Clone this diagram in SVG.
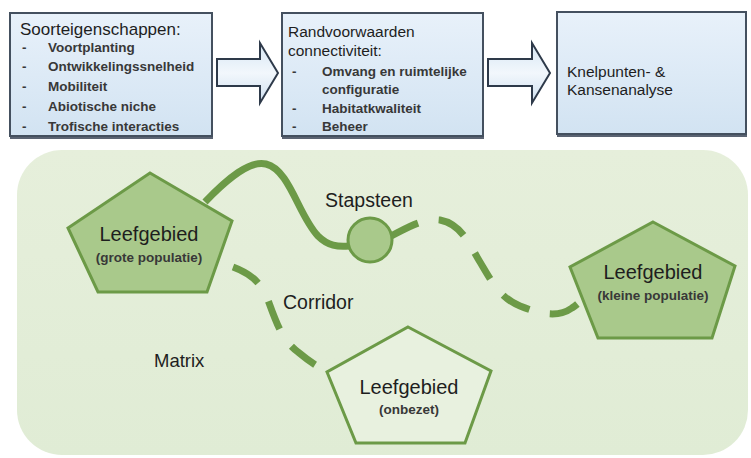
<svg xmlns="http://www.w3.org/2000/svg" width="751" height="458" viewBox="0 0 751 458">
<defs>
<linearGradient id="boxg" x1="0" y1="0" x2="0" y2="1">
<stop offset="0" stop-color="#e8f1fa"/>
<stop offset="1" stop-color="#d2e3f2"/>
</linearGradient>
<linearGradient id="arrg" x1="0" y1="0" x2="0" y2="1">
<stop offset="0" stop-color="#d6e6f4"/>
<stop offset="0.5" stop-color="#f2f7fc"/>
<stop offset="1" stop-color="#cfe0f0"/>
</linearGradient>
<linearGradient id="bgg" x1="0" y1="0" x2="0" y2="1">
<stop offset="0" stop-color="#e6efdb"/>
<stop offset="1" stop-color="#e0ecd5"/>
</linearGradient>
</defs>
<style>
.box{fill:url(#boxg);stroke:#44505f;stroke-width:2}
.shadow{fill:#5a6372}
.arrow{fill:url(#arrg);stroke:#2e3a4a;stroke-width:2;stroke-linejoin:miter}
.h{font-family:"Liberation Sans",Arial,sans-serif;fill:#1e1e1e}
.it{font-family:"Liberation Sans",Arial,sans-serif;font-weight:bold;fill:#383838;font-size:13.5px}
.pent{fill:#a9c98b;stroke:#6c9a47;stroke-width:3;stroke-linejoin:miter}
.pent2{fill:#e8f1df;stroke:#6c9a47;stroke-width:3;stroke-linejoin:miter}
.lbl{font-family:"Liberation Sans",Arial,sans-serif;fill:#1e1e1e;text-anchor:middle}
.sub{font-family:"Liberation Sans",Arial,sans-serif;font-weight:bold;fill:#383838;font-size:13.5px;text-anchor:middle}
.link{fill:none;stroke:#6c9a47;stroke-width:7;stroke-linecap:butt}
.dash{stroke-dasharray:30 21}
</style>
<rect id="matrix-area" x="17" y="150" width="731" height="305" rx="45" fill="url(#bgg)"/>

<g id="box-soorteigenschappen">
<rect class="shadow" x="10" y="16" width="203" height="123"/>
<rect class="box" x="10" y="13" width="202" height="123"/>
<text class="h" x="20" y="35" font-size="17">Soorteigenschappen:</text>
<g class="it">
<text x="22" y="52">-</text><text x="48" y="52">Voortplanting</text>
<text x="22" y="71">-</text><text x="48" y="71">Ontwikkelingssnelheid</text>
<text x="22" y="91">-</text><text x="48" y="91">Mobiliteit</text>
<text x="22" y="111">-</text><text x="48" y="111">Abiotische niche</text>
<text x="22" y="131">-</text><text x="48" y="131">Trofische interacties</text>
</g>
</g>

<g id="box-randvoorwaarden">
<rect class="shadow" x="282" y="16" width="202" height="123"/>
<rect class="box" x="282" y="13" width="201" height="123"/>
<text class="h" x="288" y="37" font-size="15.5">Randvoorwaarden</text>
<text class="h" x="288" y="56" font-size="15.5">connectiviteit:</text>
<g class="it">
<text x="292" y="76">-</text><text x="322" y="76">Omvang en ruimtelijke</text>
<text x="322" y="94">configuratie</text>
<text x="292" y="113">-</text><text x="322" y="113">Habitatkwaliteit</text>
<text x="292" y="131">-</text><text x="322" y="131">Beheer</text>
</g>
</g>

<g id="box-knelpunten">
<rect class="shadow" x="557" y="15" width="190" height="122"/>
<rect class="box" x="557" y="12" width="189" height="122"/>
<text class="h" x="567" y="77" font-size="15.5">Knelpunten- &amp;</text>
<text class="h" x="567" y="95" font-size="15.5">Kansenanalyse</text>
</g>

<g id="connectors">
<polygon class="arrow" points="217,59 260,59 260,43 278,73 260,103 260,86 217,86"/>
<polygon class="arrow" points="488,59 532,59 532,43 550,73 532,103 532,86 488,86"/>
<path class="link" d="M205,202 C228,178 250,160 266,164 C290,170 298,215 318,236 C328,246 338,247 349,246"/>
<path class="link dash" d="M391,236 C405,229 422,218 440,220 C462,224 470,246 480,262 C492,282 500,298 520,306 C540,314 558,318 572,308 C578,304 582,300 586,295"/>
<path class="link dash" d="M233,267 C252,274 262,284 268,300 C276,322 282,340 298,352 C310,362 318,367 328,372"/>
</g>

<g id="stapsteen">
<circle cx="370" cy="240" r="22" fill="#a9c98b" stroke="#6c9a47" stroke-width="3"/>
<text class="lbl" x="369" y="207" font-size="19.5">Stapsteen</text>
</g>

<g id="leefgebied-groot">
<polygon class="pent" points="150,173 232,221 207,292 98,292 68,228"/>
<text class="lbl" x="149" y="241" font-size="20">Leefgebied</text>
<text class="sub" x="149" y="262">(grote populatie)</text>
</g>

<g id="leefgebied-klein">
<polygon class="pent" points="653,222 735,266 712,338 598,338 570,267"/>
<text class="lbl" x="653" y="279" font-size="20">Leefgebied</text>
<text class="sub" x="653" y="300">(kleine populatie)</text>
</g>

<g id="leefgebied-onbezet">
<polygon class="pent2" points="408,327 491,371 465,443 356,443 327,372"/>
<text class="lbl" x="409" y="394" font-size="20">Leefgebied</text>
<text class="sub" x="409" y="414">(onbezet)</text>
</g>

<text id="corridor" class="h" x="283" y="309" font-size="19.5">Corridor</text>
<text id="matrix" class="h" x="154" y="367" font-size="18.5">Matrix</text>
</svg>
